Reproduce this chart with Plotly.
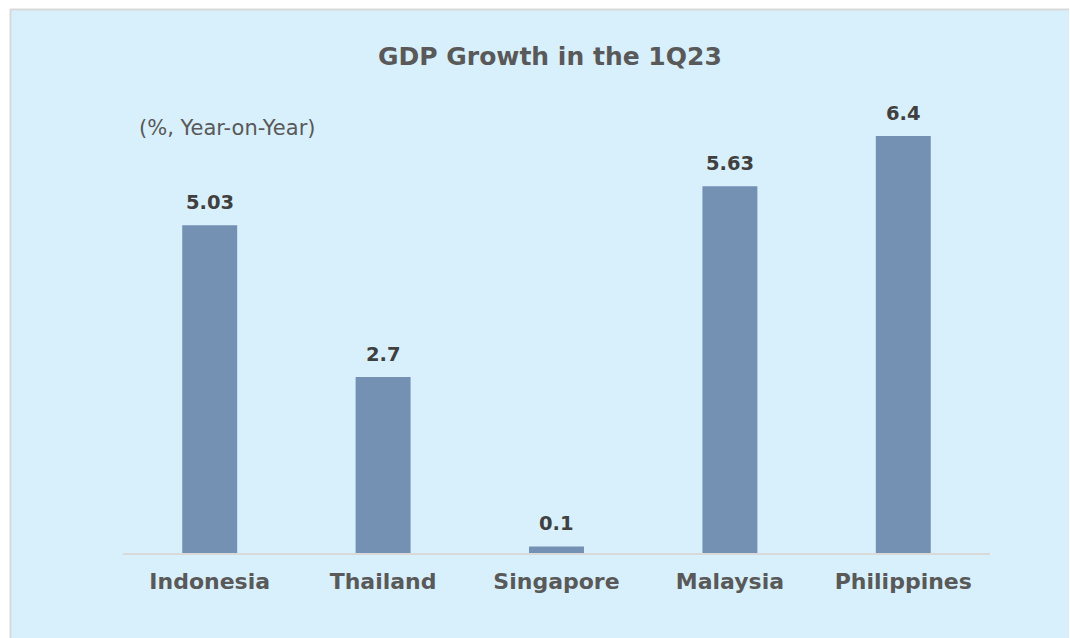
import plotly.graph_objects as go

countries = ["Indonesia", "Thailand", "Singapore", "Malaysia", "Philippines"]
growth = [5.03, 2.7, 0.1, 5.63, 6.4]
labels = ["5.03", "2.7", "0.1", "5.63", "6.4"]

W, H = 1070, 638
L, R, T, B = 123, 80, 97, 85
pw, ph = W - L - R, H - T - B

def px_x(p):
    return (p - L) / pw

def px_y(p):
    return (H - B - p) / ph

BG = "#d8f0fb"
FONT = "DejaVu Sans"

fig = go.Figure()
fig.add_trace(go.Bar(x=countries, y=growth, marker=dict(color="#7491b4", line=dict(width=0)),
                     hoverinfo="skip"))

annotations = []
for c, v, t in zip(countries, growth, labels):
    annotations.append(dict(x=c, y=v, xref="x", yref="y", text=f"<b>{t}</b>", showarrow=False,
                            yanchor="bottom", yshift=9,
                            font=dict(family=FONT, size=19.5, color="#404040")))
annotations.append(dict(x=px_x(550), y=px_y(57), xref="paper", yref="paper",
                        text="<b>GDP Growth in the 1Q23</b>", showarrow=False,
                        xanchor="center", yanchor="middle",
                        font=dict(family=FONT, size=25, color="#595959")))
annotations.append(dict(x=px_x(137), y=px_y(128), xref="paper", yref="paper",
                        text="(%, Year-on-Year)", showarrow=False,
                        xanchor="left", yanchor="middle",
                        font=dict(family=FONT, size=21, color="#595959")))

shapes = [
    dict(type="rect", xref="paper", yref="paper", x0=px_x(-5), x1=px_x(1080), y0=px_y(9), y1=px_y(-5),
         fillcolor="white", line=dict(width=0), layer="above"),
    dict(type="rect", xref="paper", yref="paper", x0=px_x(-5), x1=px_x(10), y0=px_y(650), y1=px_y(-5),
         fillcolor="white", line=dict(width=0), layer="above"),
    dict(type="rect", xref="paper", yref="paper", x0=px_x(1069), x1=px_x(1080), y0=px_y(650), y1=px_y(-5),
         fillcolor="white", line=dict(width=0), layer="above"),
    dict(type="line", xref="paper", yref="paper", x0=px_x(10), x1=px_x(1069), y0=px_y(9.5), y1=px_y(9.5),
         line=dict(color="#d9d9d9", width=2), layer="above"),
    dict(type="line", xref="paper", yref="paper", x0=px_x(10.5), x1=px_x(10.5), y0=px_y(650), y1=px_y(9),
         line=dict(color="#d9d9d9", width=2), layer="above"),
]

fig.update_layout(
    width=W, height=H,
    margin=dict(l=L, r=R, t=T, b=B, pad=0),
    paper_bgcolor=BG, plot_bgcolor=BG,
    bargap=0.683,
    showlegend=False,
    annotations=annotations,
    shapes=shapes,
    xaxis=dict(showline=True, linecolor="#d9d9d9", linewidth=2, ticks="", showgrid=False,
               tickfont=dict(family=FONT, size=22, color="#595959"),
               tickprefix="<b>", ticksuffix="</b>", ticklabelstandoff=8),
    yaxis=dict(range=[0, 7], visible=False, showgrid=False, zeroline=False),
)

fig.write_html("out.html", config={"displayModeBar": False})
